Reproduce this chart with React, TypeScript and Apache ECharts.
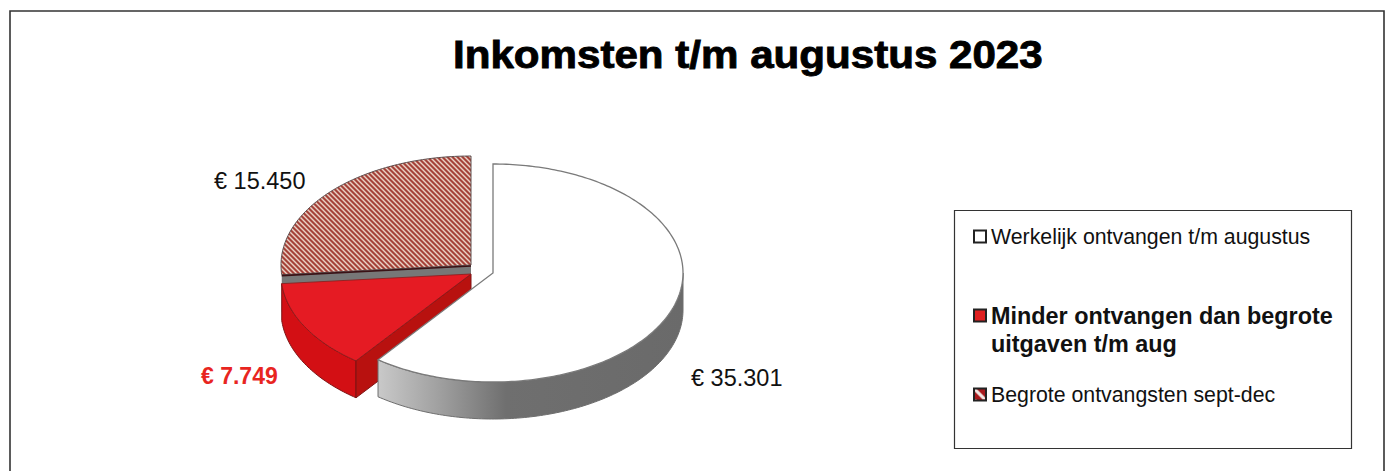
import React, { useEffect, useRef } from "react";
import * as echarts from "echarts";

const titleText = "Inkomsten t/m augustus 2023";
const sliceNames = [
  "Werkelijk ontvangen t/m augustus",
  "Minder ontvangen dan begrote uitgaven t/m aug",
  "Begrote ontvangsten sept-dec",
];
const sliceValues = [35301, 7749, 15450];
const sliceLabels = ["€ 35.301", "€ 7.749", "€ 15.450"];

const FONT = '"Liberation Sans", Arial, sans-serif';
const RX = 190;
const RY = 109;
const DEPTH = 37;
const total = sliceValues.reduce((a, b) => a + b, 0);

// per-slice drawing style (exploded centre, label anchor, colours)
const look = [
  { cx: 493, cy: 273, lx: 691, ly: 378, labelColor: "#111", bold: false },
  { cx: 471, cy: 274, lx: 201, ly: 376, labelColor: "#e8251f", bold: true },
  { cx: 471, cy: 265, lx: 214, ly: 181, labelColor: "#111", bold: false },
];

function hatchPattern(): any {
  const c = document.createElement("canvas");
  c.width = 5;
  c.height = 5;
  const g = c.getContext("2d")!;
  const ramp = ["#a5423a", "#a5423a", "#c98a7e", "#e9d3c9", "#c98a7e"];
  for (let x = 0; x < 5; x++) {
    for (let y = 0; y < 5; y++) {
      g.fillStyle = ramp[(x - y + 10) % 5];
      g.fillRect(x, y, 1, 1);
    }
  }
  return { image: c, repeat: "repeat" };
}

function iconHatch(): any {
  const c = document.createElement("canvas");
  c.width = 11;
  c.height = 11;
  const g = c.getContext("2d")!;
  g.fillStyle = "#a8191c";
  g.fillRect(0, 0, 11, 11);
  g.strokeStyle = "#f2e6e2";
  g.lineWidth = 3.2;
  g.beginPath();
  g.moveTo(0, 0);
  g.lineTo(11, 11);
  g.stroke();
  return { image: c, repeat: "repeat" };
}

function pt(cx: number, cy: number, deg: number, dy = 0): number[] {
  const t = (deg * Math.PI) / 180;
  return [cx + RX * Math.sin(t), cy - RY * Math.cos(t) + dy];
}

function arc(cx: number, cy: number, a: number, b: number, dy = 0): number[][] {
  const out: number[][] = [];
  const n = Math.max(2, Math.ceil(Math.abs(b - a)));
  for (let i = 0; i <= n; i++) out.push(pt(cx, cy, a + ((b - a) * i) / n, dy));
  return out;
}

function sliceAngles(idx: number): [number, number] {
  let s = 0;
  for (let i = 0; i < idx; i++) s += sliceValues[i];
  return [(s / total) * 360, ((s + sliceValues[idx]) / total) * 360];
}

function poly(points: number[][], style: any) {
  return { type: "polygon", shape: { points }, style };
}

function buildItem(idx: number, hatch: any) {
  const [a, b] = sliceAngles(idx);
  const { cx, cy, lx, ly, labelColor, bold } = look[idx];
  const children: any[] = [];
  const top = [[cx, cy], ...arc(cx, cy, a, b)];
  const wallFrom = Math.max(a, 90);
  const wallTo = Math.min(b, 270);
  const wall = [...arc(cx, cy, wallFrom, wallTo), ...arc(cx, cy, wallTo, wallFrom, DEPTH)];

  if (idx === 0) {
    children.push(
      poly(wall, {
        fill: {
          type: "linear", x: 378, y: 0, x2: 683, y2: 0, global: true,
          colorStops: [
            { offset: 0, color: "#c9c9c9" },
            { offset: 0.2, color: "#a0a0a0" },
            { offset: 0.42, color: "#6f6f6f" },
            { offset: 1, color: "#6a6a6a" },
          ],
        },
        stroke: "#6e6e6e", lineWidth: 1,
      }),
      poly(top, { fill: "#ffffff", stroke: "#7a7a7a", lineWidth: 1.3 })
    );
  } else if (idx === 1) {
    const tip = pt(cx, cy, a);
    children.push(
      poly(wall, { fill: "#d30f14", stroke: "#7d1414", lineWidth: 1 }),
      poly([[cx, cy], tip, [tip[0], tip[1] + DEPTH], [cx, cy + DEPTH]], {
        fill: "#b8110f", stroke: "#7d1414", lineWidth: 1,
      }),
      poly(top, { fill: "#e51b23", stroke: "#8a1a1a", lineWidth: 0.8 })
    );
  } else {
    const edge = pt(cx, cy, a);
    children.push(
      poly([[cx, cy], edge, [edge[0], edge[1] + DEPTH], [cx, cy + DEPTH]], { fill: "#777777" }),
      poly(top, { fill: hatch, stroke: "#5e5050", lineWidth: 1 }),
      { type: "polyline", shape: { points: [[cx, cy + 1], [edge[0], edge[1] + 1]] }, style: { fill: "none", stroke: "#3a1216", lineWidth: 1.6 } }
    );
  }
  children.push({
    type: "text",
    x: lx,
    y: ly,
    style: {
      text: sliceLabels[idx],
      fill: labelColor,
      font: `${bold ? "bold 23px" : "23.5px"} ${FONT}`,
      verticalAlign: "middle",
    },
  });
  return { type: "group", children };
}

export default function App() {
  const ref = useRef<HTMLDivElement>(null);
  useEffect(() => {
    document.body.style.margin = "0";
    const chart = echarts.init(ref.current!, null, { renderer: "svg" });
    const hatch = hatchPattern();
    const zOrder = [3, 2, 1];
    const seriesColors = ["#ffffff", "#e01f1f", hatch];
    const legendTop = [226, 304, 384];
    const legendColors = ["#ffffff", "#e01f1f", iconHatch()];
    chart.setOption({
      animation: false,
      backgroundColor: "#ffffff",
      legend: sliceNames.map((name, i) => ({
        left: 973,
        top: legendTop[i],
        padding: 0,
        itemWidth: 12,
        itemHeight: 12,
        itemGap: 0,
        icon: "rect",
        selectedMode: false,
        formatter: (n: string) => (i === 1 ? "Minder ontvangen dan begrote" : n),
        textStyle: {
          fontFamily: FONT,
          fontSize: i === 1 ? 23.4 : 21.3,
          fontWeight: i === 1 ? "bold" : "normal",
          color: "#111",
        },
        data: [{
          name,
          icon: "rect",
          itemStyle: { color: legendColors[i], borderColor: "#222", borderWidth: 2 },
        }],
      })),
      graphic: [
        { type: "rect", shape: { x: 10, y: 11, width: 1374, height: 480 }, style: { fill: "none", stroke: "#333", lineWidth: 1.6 }, z: -10 },
        { type: "rect", shape: { x: 954.5, y: 210.5, width: 397, height: 238 }, style: { fill: "#fff", stroke: "#333", lineWidth: 1.2 }, z: -5 },
        { type: "text", x: 453, y: 55, scaleX: 1.08, style: { text: titleText, fill: "#000", stroke: "#000", lineWidth: 0.9, font: `bold 39px ${FONT}`, verticalAlign: "middle" }, z: 5 },
        { type: "text", x: 991, y: 344, style: { text: "uitgaven t/m aug", fill: "#111", font: `bold 23.4px ${FONT}`, verticalAlign: "middle" }, z: 5 },
      ],
      series: sliceNames.map((name, i) => ({
        type: "custom",
        name,
        coordinateSystem: "none",
        z: zOrder[i],
        itemStyle: { color: seriesColors[i] },
        data: [sliceValues[i]],
        renderItem: () => buildItem(i, hatch),
      })),
    });
    return () => chart.dispose();
  }, []);
  return <div ref={ref} style={{ width: 1389, height: 471 }} />;
}
